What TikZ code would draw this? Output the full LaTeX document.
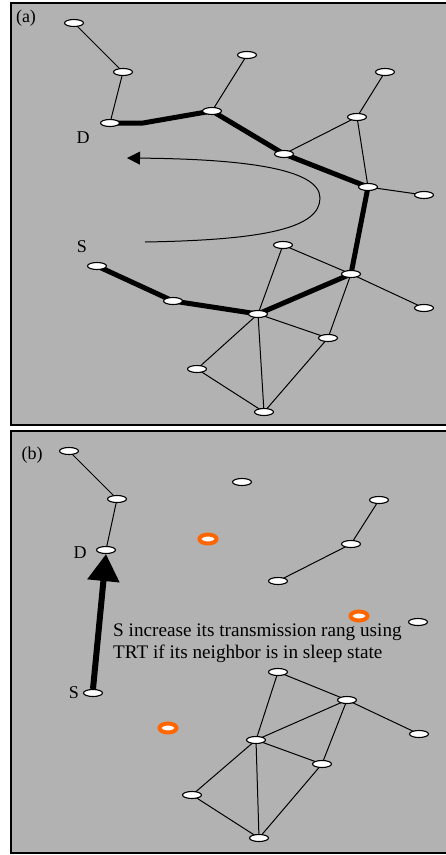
\documentclass[tikz,border=0pt]{standalone}
\usepackage{fontspec}
\setmainfont{Liberation Serif}
\usetikzlibrary{arrows.meta,shapes.geometric}
\definecolor{panelgray}{RGB}{178,178,178}
\definecolor{sleeporange}{RGB}{255,102,0}
\pgfdeclarelayer{bg}
\pgfdeclarelayer{edges}
\pgfsetlayers{bg,edges,main}
\tikzset{
  sensor/.style={ellipse, draw=black, line width=1.1pt, fill=white, minimum width=19pt, minimum height=7pt, inner sep=0pt},
  sleeping/.style={ellipse, draw=sleeporange, line width=4pt, fill=white, minimum width=17pt, minimum height=9pt, inner sep=0pt},
  link/.style={line width=1pt},
  route/.style={line width=5pt},
  lbl/.style={font=\fontsize{18}{21}\selectfont, inner sep=0pt},
  note/.style={font=\fontsize{19.2}{22}\selectfont, inner sep=0pt, anchor=base west},
  panel/.style={fill=panelgray, draw=black, line width=2.2pt}
}
\begin{document}
\begin{tikzpicture}[x=1pt,y=-1pt]
\useasboundingbox (0,0) rectangle (446,855);
\begin{pgfonlayer}{bg}
  \filldraw[panel] (11,3) rectangle (455,425);
  \filldraw[panel] (11,431) rectangle (455,853);
\end{pgfonlayer}

% ---------- panel (a) ----------
\node[lbl] (la) at (26,18) {(a)};
\node[lbl] (lD) at (83,138) {D};
\node[lbl] (lS) at (82,247) {S};

\node[sensor] (a1) at (74,23) {};
\node[sensor] (a2) at (123,72) {};
\node[sensor] (aD) at (110,123) {};
\node[sensor] (a4) at (212,111) {};
\node[sensor] (a5) at (247,55) {};
\node[sensor] (a6) at (385,72) {};
\node[sensor] (a7) at (357,117) {};
\node[sensor] (a8) at (284,154) {};
\node[sensor] (a9) at (368,187) {};
\node[sensor] (a10) at (424,195) {};
\node[sensor] (aS) at (97,266) {};
\node[sensor] (a12) at (173,301) {};
\node[sensor] (a13) at (258,314) {};
\node[sensor] (a14) at (283,245) {};
\node[sensor] (a15) at (351,274) {};
\node[sensor] (a16) at (424,308) {};
\node[sensor] (a17) at (328,338) {};
\node[sensor] (a18) at (197,369) {};
\node[sensor] (a19) at (264,412) {};
\coordinate (kink) at (143,123);

\coordinate (sweepS) at (145,242);
\coordinate (sweepR) at (320,198);
\coordinate (sweepD) at (127,158);
\draw[line width=1pt, -{Triangle[length=13pt,width=13pt]}]
  (sweepS) .. controls (265,240) and (320,228) .. (sweepR)
           .. controls (320,168) and (240,159) .. (sweepD);

\begin{pgfonlayer}{edges}
  \foreach \u/\v in {a1/a2, a2/aD, a4/a5, a6/a7, a7/a8, a7/a9, a9/a10,
                     a14/a13, a14/a15, a15/a16, a15/a17, a13/a17, a13/a18,
                     a13/a19, a18/a19, a17/a19}
    \draw[link] (\u.center) -- (\v.center);
  \draw[route] (aD.center) -- (kink) -- (a4.center) -- (a8.center) -- (a9.center)
               -- (a15.center) -- (a13.center) -- (a12.center) -- (aS.center);
\end{pgfonlayer}

% ---------- panel (b) ----------
\node[lbl] (lb) at (32,455) {(b)};
\node[lbl] (lbD) at (80,553) {D};
\node[lbl] (lbS) at (74,693) {S};

\node[sensor] (b1) at (69,451) {};
\node[sensor] (b2) at (117,499) {};
\node[sensor] (bD) at (106,550) {};
\node[sensor] (bL) at (242,482) {};
\node[sleeping] (o1) at (208,539) {};
\node[sensor] (b6) at (379,500) {};
\node[sensor] (b7) at (351,544) {};
\node[sensor] (b8) at (278,581) {};
\node[sleeping] (o2) at (359,616) {};
\node[sensor] (b10) at (418,622) {};
\node[sensor] (bS) at (93,693) {};
\node[sleeping] (o3) at (168,728) {};
\node[sensor] (c1) at (278,672) {};
\node[sensor] (c2) at (347,700) {};
\node[sensor] (c3) at (419,734) {};
\node[sensor] (c4) at (256,740) {};
\node[sensor] (c5) at (322,764) {};
\node[sensor] (c6) at (192,795) {};
\node[sensor] (c7) at (259,838) {};

\begin{pgfonlayer}{edges}
  \foreach \u/\v in {b1/b2, b2/bD, b6/b7, b7/b8, c1/c4, c1/c2, c2/c4, c2/c3,
                     c2/c5, c4/c5, c4/c6, c4/c7, c6/c7, c5/c7}
    \draw[link] (\u.center) -- (\v.center);
\end{pgfonlayer}

\draw[line width=6pt, -{Triangle[length=27pt,width=31pt]}] (bS.north) -- (bD.south);

\node[note] (t1) at (113,636) {S increase its transmission rang using};
\node[note] (t2) at (113,658) {TRT if its neighbor is in sleep state};
\end{tikzpicture}
\end{document}
